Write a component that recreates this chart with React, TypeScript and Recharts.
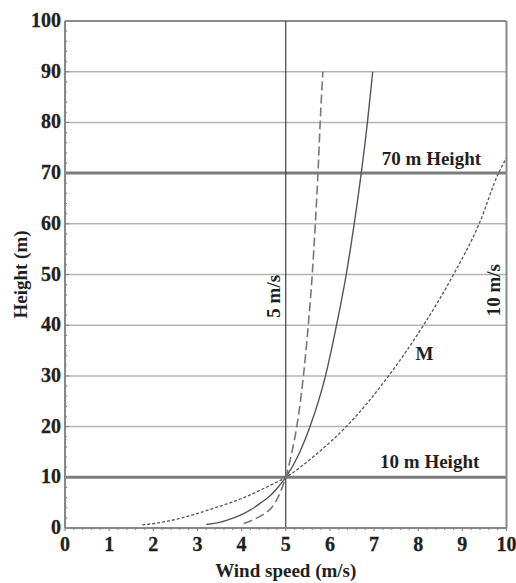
import React from 'react';
import { LineChart, Line, XAxis, YAxis, ReferenceLine, ReferenceDot, Label } from 'recharts';

// wind speed (m/s) vs height (m) for three shear profiles, all meeting at 5 m/s @ 10 m
const dashedSpeed = [4.05, 4.35, 4.55, 4.68, 4.82, 4.92, 5.0, 5.14, 5.25, 5.4, 5.51, 5.6, 5.67, 5.73, 5.78, 5.84];
const dashedHeight = [0.9, 2, 3, 4, 6, 8, 10, 15, 20, 30, 40, 50, 60, 70, 80, 90];

const solidSpeed = [3.2, 3.45, 3.82, 4.08, 4.28, 4.44, 4.6, 4.82, 5.0, 5.32, 5.55, 5.9, 6.15, 6.37, 6.55, 6.71, 6.85, 6.97];
const solidHeight = [0.7, 1, 2, 3, 4, 5, 6, 8, 10, 15, 20, 30, 40, 50, 60, 70, 80, 90];

const dottedSpeed = [1.75, 2.1, 2.65, 3.05, 3.4, 3.75, 4.05, 4.55, 5.0, 5.75, 6.37, 7.33, 8.12, 8.8, 9.38, 9.82, 10.0];
const dottedHeight = [0.6, 1, 2, 3, 4, 5, 6, 8, 10, 15, 20, 30, 40, 50, 60, 70, 73];

const speedLabels = [0, 1, 2, 3, 4, 5, 6, 7, 8, 9, 10];
const heightLabels = [0, 10, 20, 30, 40, 50, 60, 70, 80, 90, 100];
const gridHeights = [20, 30, 40, 50, 60, 80, 90];
const markedHeights = [10, 70];

// minor ticks: every 0.2 m/s, every 2 m
const speedTicks = Array.from({ length: 51 }, (_, i) => i / 5);
const heightTicks = Array.from({ length: 51 }, (_, i) => i * 2);

const toPoints = (speed: number[], height: number[]) => speed.map((v, i) => ({ v, h: height[i] }));
const dashed = toPoints(dashedSpeed, dashedHeight);
const solid = toPoints(solidSpeed, solidHeight);
const dotted = toPoints(dottedSpeed, dottedHeight);

const FONT = '"Liberation Serif", "Times New Roman", serif';
const TEXT = '#1f1f1f';
const textStyle = { fontFamily: FONT, fontWeight: 700, fontSize: 19, fill: TEXT };

const near = (v: number, list: number[]) => list.find((t) => Math.abs(t - v) < 1e-6);

function TickText({ x, y, anchor, children }: any) {
  return (
    <text
      x={x}
      y={y}
      textAnchor={anchor}
      fontFamily={FONT}
      fontWeight="bold"
      fontSize={20}
      fill={TEXT}
      stroke={TEXT}
      strokeWidth={0.3}
    >
      {children}
    </text>
  );
}

function SpeedTick({ x, y, payload }: any) {
  const label = near(payload.value, speedLabels);
  const major = label !== undefined;
  return (
    <g>
      <line x1={x} x2={x} y1={y} y2={y + (major ? 3 : 2)} stroke="#888" strokeWidth={1.2} />
      {major && (
        <TickText x={x} y={y + 23} anchor="middle">
          {label}
        </TickText>
      )}
    </g>
  );
}

function HeightTick({ x, y, payload }: any) {
  const label = near(payload.value, heightLabels);
  const major = label !== undefined;
  return (
    <g>
      <line x1={x} x2={x + (major ? 4 : 2)} y1={y} y2={y} stroke="#888" strokeWidth={1.2} />
      {major && (
        <TickText x={x - 4} y={y + 6} anchor="end">
          {label}
        </TickText>
      )}
    </g>
  );
}

function note(value: string, position: any, offset = 0, angle = 0) {
  return <Label value={value} position={position} offset={offset} angle={angle} style={textStyle} />;
}

export default function App() {
  return (
    <div style={{ position: 'absolute', left: 0, top: 0 }}>
      <LineChart width={516} height={583} margin={{ top: 21, right: 9.5, bottom: 0, left: 0 }}>
        <XAxis
          type="number"
          dataKey="v"
          domain={[0, 10]}
          ticks={speedTicks}
          interval={0}
          height={55}
          allowDataOverflow
          tickLine={false}
          tickSize={0}
          tickMargin={0}
          tick={<SpeedTick />}
          axisLine={{ stroke: '#888', strokeWidth: 2 }}
        >
          <Label value="Wind speed (m/s)" position="insideBottom" offset={6} style={textStyle} />
        </XAxis>
        <YAxis
          type="number"
          dataKey="h"
          domain={[0, 100]}
          ticks={heightTicks}
          interval={0}
          width={65}
          allowDataOverflow
          tickLine={false}
          tickSize={0}
          tickMargin={0}
          tick={<HeightTick />}
          axisLine={{ stroke: '#888', strokeWidth: 2 }}
        >
          <Label value="Height (m)" position="center" angle={-90} dx={-12.5} style={textStyle} />
        </YAxis>

        {gridHeights.map((h) => (
          <ReferenceLine key={h} y={h} stroke="#b4b4b4" strokeWidth={1.5} />
        ))}
        {markedHeights.map((h) => (
          <ReferenceLine key={h} y={h} stroke="#7c7c7c" strokeWidth={3} />
        ))}
        <ReferenceLine y={100} stroke="#8a8a8a" strokeWidth={2} />
        <ReferenceLine x={10} stroke="#8a8a8a" strokeWidth={2} />
        <ReferenceLine x={5} stroke="#444" strokeWidth={1.2} />

        <Line data={dotted} dataKey="h" type="monotone" stroke="#555" strokeWidth={1.3} strokeDasharray="3 2" dot={false} isAnimationActive={false} />
        <Line data={solid} dataKey="h" type="monotone" stroke="#555" strokeWidth={1.4} dot={false} isAnimationActive={false} />
        <Line data={dashed} dataKey="h" type="monotone" stroke="#777" strokeWidth={1.6} strokeDasharray="9 4" dot={false} isAnimationActive={false} />

        <ReferenceDot x={8.3} y={70} r={0} fill="none" stroke="none">
          {note('70 m Height', 'top', 8)}
        </ReferenceDot>
        <ReferenceDot x={8.26} y={10} r={0} fill="none" stroke="none">
          {note('10 m Height', 'top', 9)}
        </ReferenceDot>
        <ReferenceDot x={8.14} y={34.4} r={0} fill="none" stroke="none">
          {note('M', 'center')}
        </ReferenceDot>
        <ReferenceDot x={4.72} y={45.7} r={0} fill="none" stroke="none">
          {note('5 m/s', 'center', 0, -90)}
        </ReferenceDot>
        <ReferenceDot x={9.69} y={46.9} r={0} fill="none" stroke="none">
          {note('10 m/s', 'center', 0, -90)}
        </ReferenceDot>
      </LineChart>
    </div>
  );
}
